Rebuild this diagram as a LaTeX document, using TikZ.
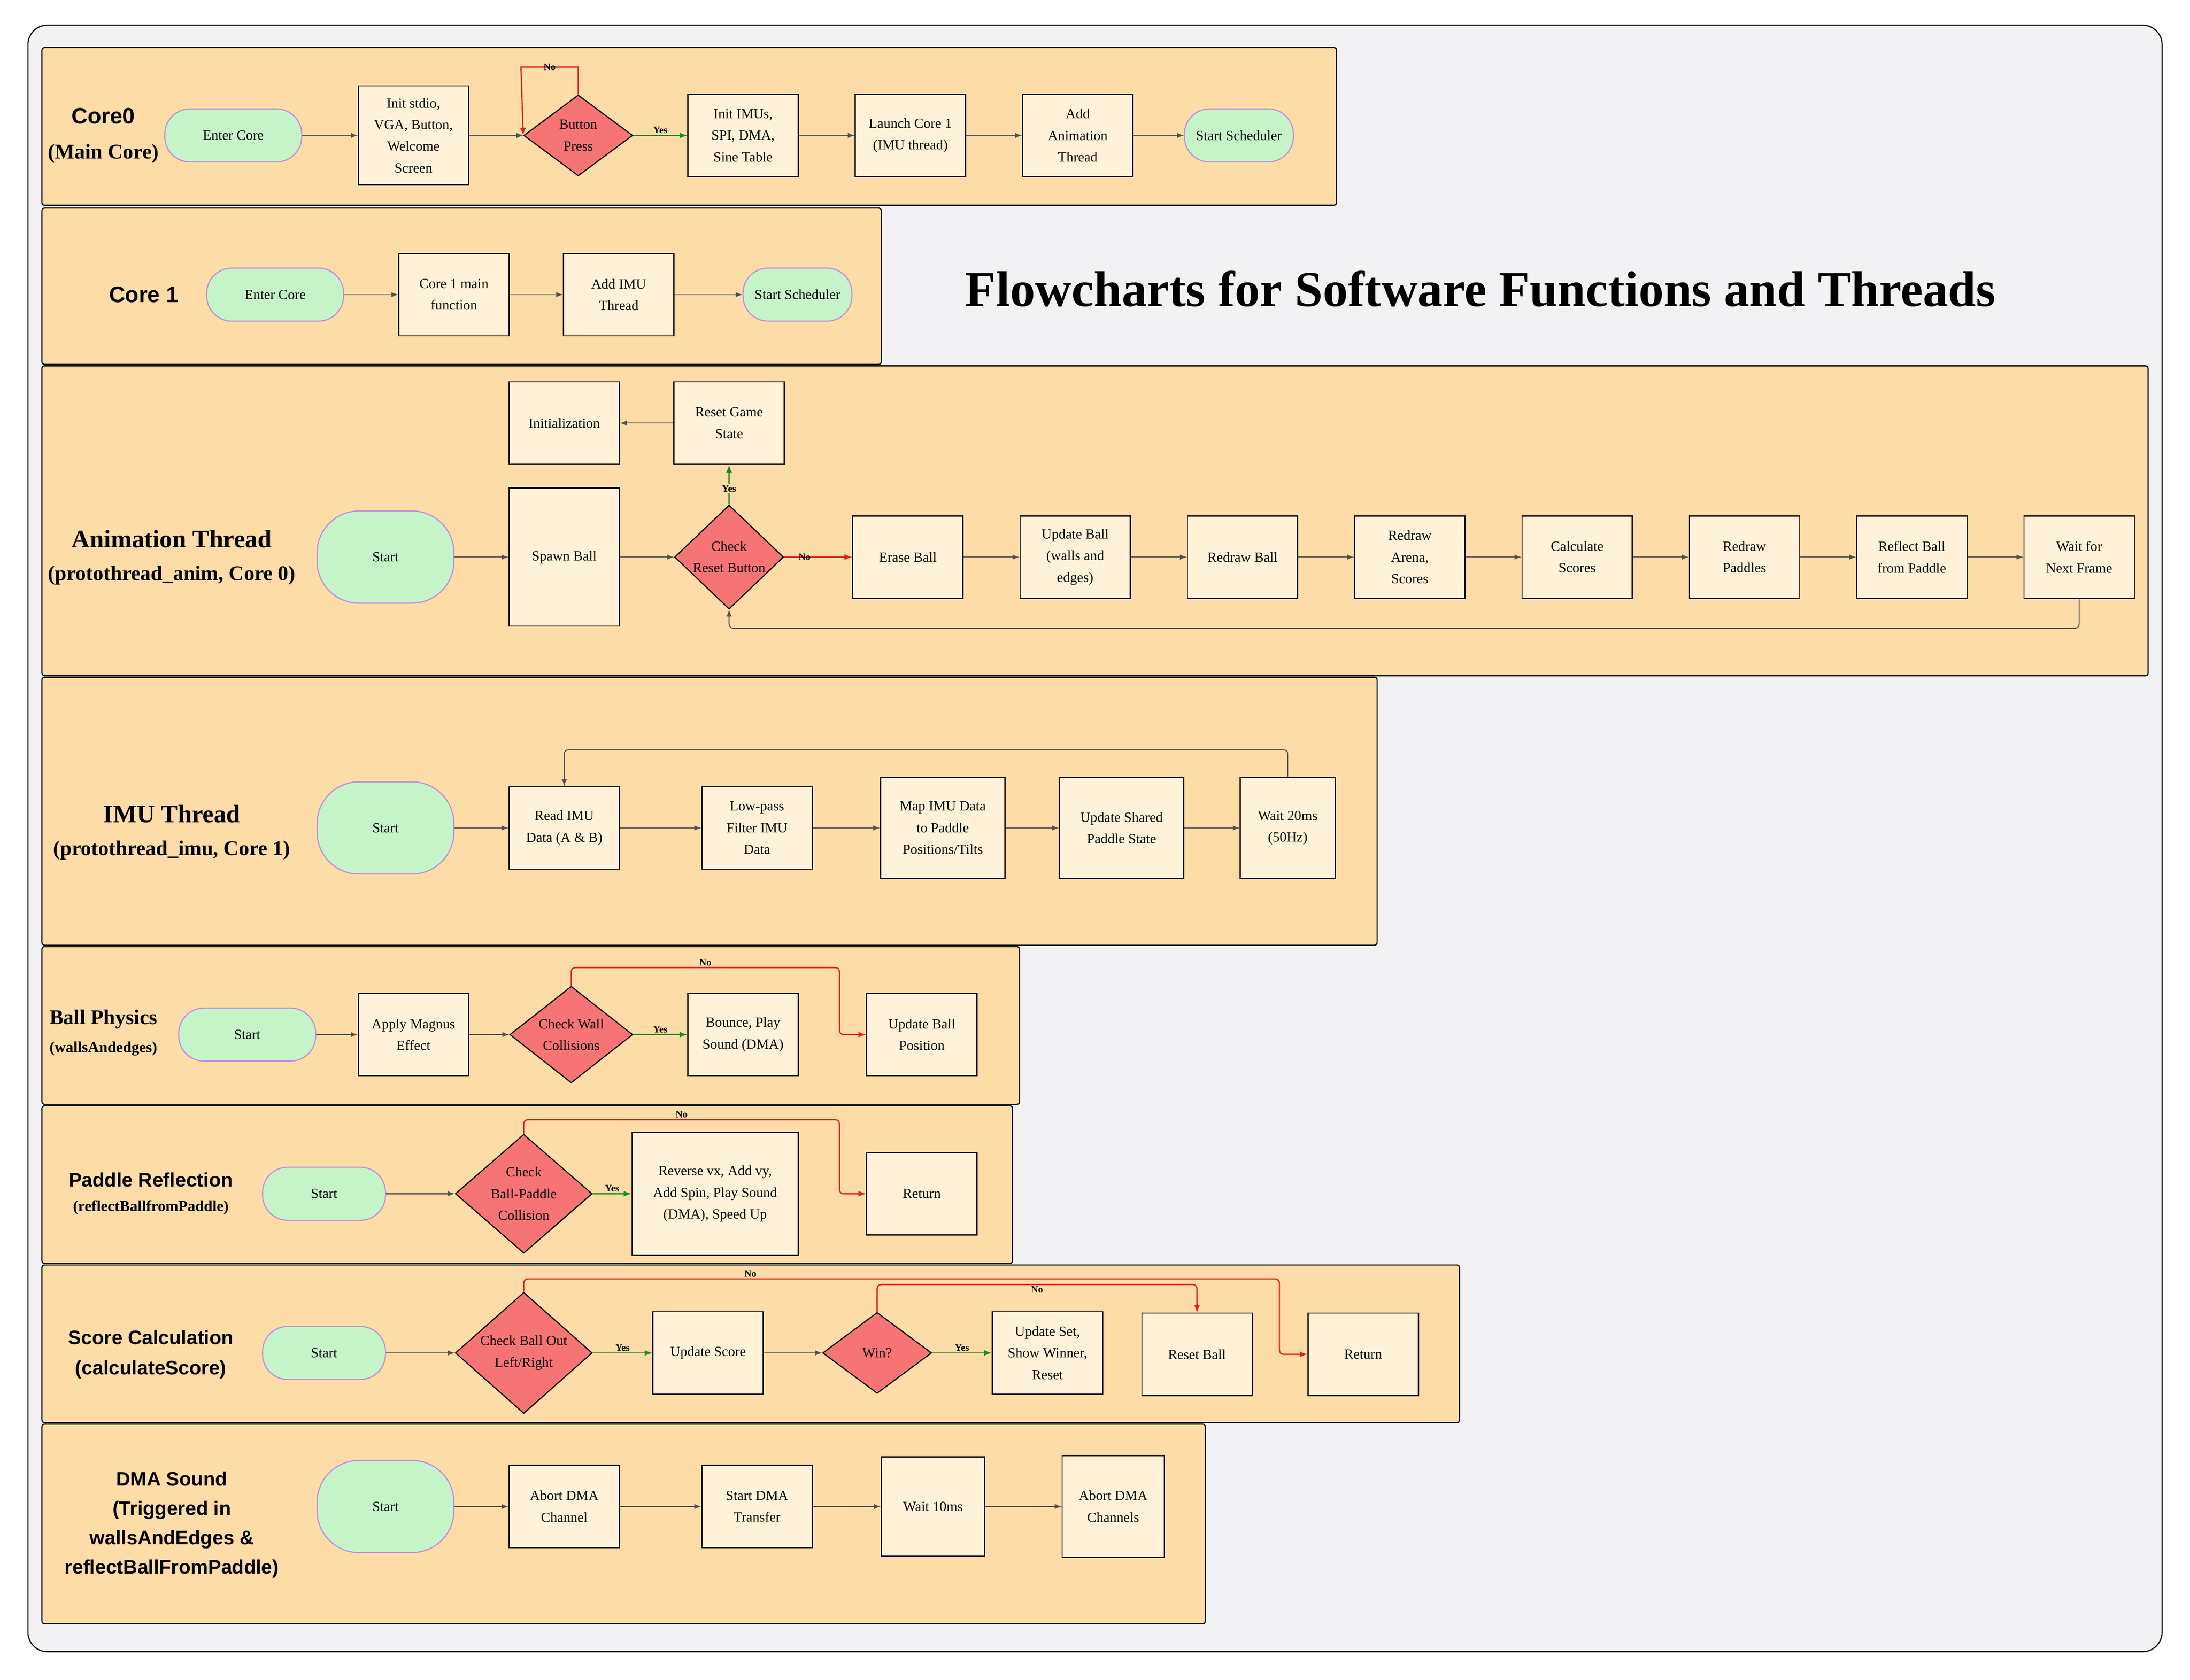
\documentclass[tikz,border=0pt]{standalone}
\usepackage{fontspec}
\setmainfont{Liberation Serif}
\setsansfont{Liberation Sans}
\usetikzlibrary{shapes.geometric,positioning}
\definecolor{panelfill}{HTML}{FDDCA8}
\definecolor{boxfill}{HTML}{FFF2D8}
\definecolor{termfill}{HTML}{C6F4C9}
\definecolor{termline}{HTML}{C08CE0}
\definecolor{decfill}{HTML}{F77474}
\definecolor{bgfill}{HTML}{F2F2F4}
\definecolor{yesline}{HTML}{1E8C1E}
\definecolor{noline}{HTML}{E01E1E}
\definecolor{flowline}{HTML}{505050}

\begin{document}
\begin{tikzpicture}[x=1pt, y=-1pt, >=latex, node distance=40pt,
    font=\fontsize{10}{15.5}\selectfont,
    panel/.style={draw=black, fill=panelfill, rounded corners=2pt, line width=0.8pt},
    proc/.style={rectangle, draw=black, fill=boxfill, align=center, minimum width=79pt,
                 minimum height=59pt, inner sep=2pt, line width=0.8pt},
    term/.style={rectangle, draw=termline, fill=termfill, align=center, minimum width=98pt,
                 minimum height=38pt, rounded corners=18pt, line width=0.8pt},
    bigterm/.style={term, minimum height=66pt, rounded corners=30pt},
    dec/.style={diamond, draw=black, fill=decfill, align=center, minimum width=78pt,
                minimum height=58pt, inner sep=0pt, line width=0.8pt},
    title/.style={font=\fontsize{15}{20}\selectfont\bfseries, align=center},
    stitle/.style={font=\fontsize{14}{21}\sffamily\bfseries, align=center},
    flow/.style={->, draw=flowline, line width=0.7pt},
    yesarr/.style={->, draw=yesline, line width=0.9pt},
    noarr/.style={->, draw=noline, line width=0.9pt},
    tag/.style={font=\fontsize{7}{8}\selectfont\bfseries, inner sep=1pt}]

  \useasboundingbox (0,0) rectangle (1568,1203);
  \draw[fill=bgfill, draw=black, line width=0.8pt, rounded corners=14pt] (20,18) rectangle (1548,1183);

  % panels
  \draw[panel] (30,34) rectangle (957,147);
  \draw[panel] (30,149) rectangle (631,261);
  \draw[panel] (30,262) rectangle (1538,484);
  \draw[panel] (30,485) rectangle (986,677);
  \draw[panel] (30,678) rectangle (730,791);
  \draw[panel] (30,792) rectangle (725,905);
  \draw[panel] (30,906) rectangle (1045,1019);
  \draw[panel] (30,1020) rectangle (863,1163);

  \node[font=\fontsize{36}{40}\selectfont\bfseries] (heading) at (1060,207)
    {Flowcharts for Software Functions and Threads};

  % Core0
  \node[stitle, font=\fontsize{16}{20}\sffamily\bfseries] (c0name) at (74,83) {Core0};
  \node[title] (c0sub) at (74,110) {(Main Core)};
  \node[term] (c0enter) at (167,97) {Enter Core};
  \node[proc, minimum height=71pt] (c0init) at (296,97) {Init stdio,\\VGA, Button,\\Welcome\\Screen};
  \node[dec] (c0btn) at (414,97) {Button\\Press};
  \node[proc] (c0imu) at (532,97) {Init IMUs,\\SPI, DMA,\\Sine Table};
  \node[proc, right=of c0imu] (c0launch) {Launch Core 1\\(IMU thread)};
  \node[proc, right=of c0launch] (c0anim) {Add\\Animation\\Thread};
  \node[term, minimum width=78pt] (c0sched) at (887,97) {Start Scheduler};
  \draw[flow] (c0enter) -- (c0init);
  \draw[flow] (c0init) -- (c0btn);
  \draw[yesarr] (c0btn) -- node[tag, above, text=black] {Yes} (c0imu);
  \draw[noarr] (c0btn.north) |- (373,48) node[tag, pos=0.75, text=black] {No} -- (c0btn.west);
  \draw[flow] (c0imu) -- (c0launch);
  \draw[flow] (c0launch) -- (c0anim);
  \draw[flow] (c0anim) -- (c0sched);

  % Core 1
  \node[stitle, font=\fontsize{16}{20}\sffamily\bfseries] (c1name) at (103,211) {Core 1};
  \node[term] (c1enter) at (197,211) {Enter Core};
  \node[proc] (c1main) at (325,211) {Core 1 main\\function};
  \node[proc] (c1add) at (443,211) {Add IMU\\Thread};
  \node[term, minimum width=78pt] (c1sched) at (571,211) {Start Scheduler};
  \draw[flow] (c1enter) -- (c1main);
  \draw[flow] (c1main) -- (c1add);
  \draw[flow] (c1add) -- (c1sched);

  % Animation thread
  \node[title, font=\fontsize{18}{22}\selectfont\bfseries] (anname) at (123,386) {Animation Thread};
  \node[title] (ansub) at (123,412) {(protothread\_anim, Core 0)};
  \node[bigterm] (anstart) at (276,399) {Start};
  \node[proc, minimum height=99pt] (anspawn) at (404,399) {Spawn Ball};
  \node[dec, minimum height=64pt] (anreset) at (522,399) {Check\\Reset Button};
  \node[proc] (aninit) at (404,303) {Initialization};
  \node[proc] (anstate) at (522,303) {Reset Game\\State};
  \node[proc] (anerase) at (650,399) {Erase Ball};
  \node[proc, right=of anerase] (anupdate) {Update Ball\\(walls and\\edges)};
  \node[proc, right=of anupdate] (anredraw) {Redraw Ball};
  \node[proc, right=of anredraw] (anarena) {Redraw\\Arena,\\Scores};
  \node[proc, right=of anarena] (anscores) {Calculate\\Scores};
  \node[proc, right=of anscores] (anpaddles) {Redraw\\Paddles};
  \node[proc, right=of anpaddles] (anreflect) {Reflect Ball\\from Paddle};
  \node[proc, right=of anreflect] (anwait) {Wait for\\Next Frame};
  \draw[flow] (anstart) -- (anspawn);
  \draw[flow] (anspawn) -- (anreset);
  \draw[yesarr] (anreset) -- node[tag, pos=0.4, fill=panelfill] {Yes} (anstate);
  \draw[flow] (anstate) -- (aninit);
  \draw[noarr] (anreset) -- node[tag, pos=0.3] {No} (anerase);
  \draw[flow] (anerase) -- (anupdate);
  \draw[flow] (anupdate) -- (anredraw);
  \draw[flow] (anredraw) -- (anarena);
  \draw[flow] (anarena) -- (anscores);
  \draw[flow] (anscores) -- (anpaddles);
  \draw[flow] (anpaddles) -- (anreflect);
  \draw[flow] (anreflect) -- (anwait);
  \draw[flow, rounded corners=3pt] (anwait.south) |- (522,450) -- (anreset.south);

  % IMU thread
  \node[title, font=\fontsize{18}{22}\selectfont\bfseries] (imuname) at (123,583) {IMU Thread};
  \node[title] (imusub) at (123,609) {(protothread\_imu, Core 1)};
  \node[bigterm] (imustart) at (276,593) {Start};
  \node[proc] (imuread) at (404,593) {Read IMU\\Data (A \& B)};
  \node[proc] (imufilter) at (542,593) {Low-pass\\Filter IMU\\Data};
  \node[proc, minimum width=89pt, minimum height=72pt] (imumap) at (675,593) {Map IMU Data\\to Paddle\\Positions/Tilts};
  \node[proc, minimum width=89pt, minimum height=72pt] (imushared) at (803,593) {Update Shared\\Paddle State};
  \node[proc, minimum width=68pt, minimum height=72pt] (imuwait) at (922,593) {Wait 20ms\\(50Hz)};
  \draw[flow] (imustart) -- (imuread);
  \draw[flow] (imuread) -- (imufilter);
  \draw[flow] (imufilter) -- (imumap);
  \draw[flow] (imumap) -- (imushared);
  \draw[flow] (imushared) -- (imuwait);
  \draw[flow, rounded corners=3pt] (imuwait.north) |- (404,537) -- (imuread.north);

  % Ball physics
  \node[title] (bpname) at (74,730) {Ball Physics};
  \node[title, font=\fontsize{11}{14}\selectfont\bfseries] (bpsub) at (74,751) {(wallsAndedges)};
  \node[term] (bpstart) at (177,741) {Start};
  \node[proc] (bpmagnus) at (296,741) {Apply Magnus\\Effect};
  \node[dec, minimum width=88pt] (bpwall) at (409,741) {Check Wall\\Collisions};
  \node[proc] (bpbounce) at (532,741) {Bounce, Play\\Sound (DMA)};
  \node[proc] (bpupdate) at (660,741) {Update Ball\\Position};
  \draw[flow] (bpstart) -- (bpmagnus);
  \draw[flow] (bpmagnus) -- (bpwall);
  \draw[yesarr] (bpwall) -- node[tag, above] {Yes} (bpbounce);
  \draw[noarr, rounded corners=3pt] (bpwall.north) |- node[tag, pos=0.75, above] {No} (601,693) |- (bpupdate.west);

  % Paddle reflection
  \node[stitle] (prname) at (108,845) {Paddle Reflection};
  \node[title, font=\fontsize{11}{14}\selectfont\bfseries] (prsub) at (108,865) {(reflectBallfromPaddle)};
  \node[term, minimum width=88pt] (prstart) at (232,855) {Start};
  \node[dec, minimum width=98pt, minimum height=64pt] (prcheck) at (375,855) {Check\\Ball-Paddle\\Collision};
  \node[proc, minimum width=119pt, minimum height=88pt] (prreverse) at (512,855)
    {Reverse vx, Add vy,\\Add Spin, Play Sound\\(DMA), Speed Up};
  \node[proc] (prreturn) at (660,855) {Return};
  \draw[flow] (prstart) -- (prcheck);
  \draw[yesarr] (prcheck) -- node[tag, above] {Yes} (prreverse);
  \draw[noarr, rounded corners=3pt] (prcheck.north) |- node[tag, pos=0.75, above] {No} (601,802) |- (prreturn.west);

  % Score calculation
  \node[stitle] (scname) at (108,958) {Score Calculation};
  \node[stitle] (scsub) at (108,981) {(calculateScore)};
  \node[term, minimum width=88pt] (scstart) at (232,969) {Start};
  \node[dec, minimum width=98pt, minimum height=64pt] (scout) at (375,969) {Check Ball Out\\Left/Right};
  \node[proc] (scupdate) at (507,969) {Update Score};
  \node[dec] (scwin) at (628,969) {Win?};
  \node[proc] (scset) at (750,969) {Update Set,\\Show Winner,\\Reset};
  \node[proc] (scball) at (857,970) {Reset Ball};
  \node[proc] (screturn) at (976,970) {Return};
  \draw[flow] (scstart) -- (scout);
  \draw[yesarr] (scout) -- node[tag, above] {Yes} (scupdate);
  \draw[flow] (scupdate) -- (scwin);
  \draw[yesarr] (scwin) -- node[tag, above] {Yes} (scset);
  \draw[noarr, rounded corners=3pt] (scwin.north) |- node[tag, pos=0.75, below] {No} (857,920) -- (scball.north);
  \draw[noarr, rounded corners=3pt] (scout.north) |- node[tag, pos=0.65, above] {No} (916,916) |- (screturn.west);

  % DMA sound
  \node[stitle] (dmaname) at (123,1092) {DMA Sound\\(Triggered in\\wallsAndEdges \&\\reflectBallFromPaddle)};
  \node[bigterm] (dmastart) at (276,1079) {Start};
  \node[proc] (dmaabort) at (404,1079) {Abort DMA\\Channel};
  \node[proc] (dmatransfer) at (542,1079) {Start DMA\\Transfer};
  \node[proc, minimum width=74pt, minimum height=71pt] (dmawait) at (668,1079) {Wait 10ms};
  \node[proc, minimum width=73pt, minimum height=73pt] (dmaaborts) at (797,1079) {Abort DMA\\Channels};
  \draw[flow] (dmastart) -- (dmaabort);
  \draw[flow] (dmaabort) -- (dmatransfer);
  \draw[flow] (dmatransfer) -- (dmawait);
  \draw[flow] (dmawait) -- (dmaaborts);
\end{tikzpicture}
\end{document}
